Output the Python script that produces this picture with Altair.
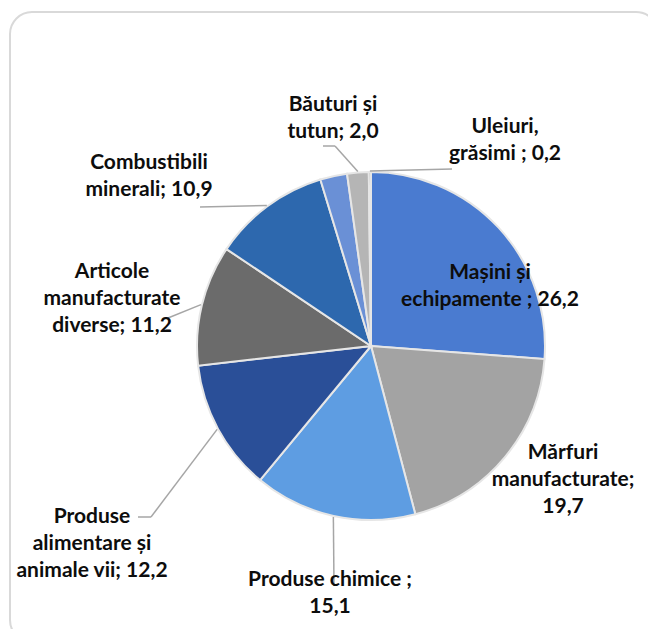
import math
import altair as alt
import pandas as pd

# ---- data ----
categories = [
    "Mașini și echipamente",
    "Mărfuri manufacturate",
    "Produse chimice",
    "Produse alimentare și animale vii",
    "Articole manufacturate diverse",
    "Combustibili minerali",
    "Materiale brute",
    "Băuturi și tutun",
    "Uleiuri, grăsimi",
]
values = [26.2, 19.7, 15.1, 12.2, 11.2, 10.9, 2.5, 2.0, 0.2]
label_texts = [
    "Mașini și\nechipamente ; 26,2",
    "Mărfuri\nmanufacturate;\n19,7",
    "Produse chimice ;\n15,1",
    "Produse\nalimentare și\nanimale vii; 12,2",
    "Articole\nmanufacturate\ndiverse; 11,2",
    "Combustibili\nminerali; 10,9",
    "",
    "Băuturi și\ntutun; 2,0",
    "Uleiuri,\ngrăsimi ; 0,2",
]

# ---- styling / layout ----
colors = ["#4a7bd0", "#a3a3a3", "#5e9de2", "#2a4f98", "#6b6b6b",
          "#2d68ae", "#6a90d6", "#b5b5b5", "#8a8a8a"]
W, H = 640, 621
OFF = 8  # page margin
CX, CY, R = 371 - OFF, 346 - OFF, 174
label_pos = {  # text block centre x / first line y (image px)
    0: (490, 273), 1: (563, 453), 2: (330, 580), 3: (92, 517),
    4: (112, 272), 5: (149, 163), 7: (333, 105), 8: (505, 127),
}
leader_pts = {  # label-side leader points (image px), last goes to slice edge
    2: [(334, 586)],
    3: [(138, 517), (151, 517)],
    4: [(168, 318)],
    5: [(200, 207)],
    7: [(323, 146), (335, 146)],
    8: [(452, 169)],
}

total = sum(values)
pie_df = pd.DataFrame({"cat": categories, "val": values, "ord": list(range(len(values)))})

lab_rows = []
for i, (x, y) in label_pos.items():
    lab_rows.append({"t": label_texts[i], "x": x - OFF, "y": y - OFF})
lab_df = pd.DataFrame(lab_rows)

seg_rows = []
cum = 0.0
mids = []
for v in values:
    mids.append((cum + v / 2) / total * 2 * math.pi)
    cum += v
for i, pts in leader_pts.items():
    a = mids[i]
    ax = CX + (R + 1) * math.sin(a)
    ay = CY - (R + 1) * math.cos(a)
    p = [(px - OFF, py - OFF) for px, py in pts] + [(ax, ay)]
    for (x1, y1), (x2, y2) in zip(p[:-1], p[1:]):
        seg_rows.append({"x": x1, "y": y1, "x2": x2, "y2": y2})
seg_df = pd.DataFrame(seg_rows)

frame = alt.Chart(pd.DataFrame({"a": [0]})).mark_rect(
    fill="white", stroke="#d9d9d9", strokeWidth=2, cornerRadius=22
).encode(x=alt.value(2), x2=alt.value(650), y=alt.value(4), y2=alt.value(634))

pie = alt.Chart(pie_df).mark_arc(
    radius=R, stroke="#e6e6e6", strokeWidth=2
).encode(
    theta=alt.Theta("val:Q", stack=True),
    order=alt.Order("ord:Q"),
    color=alt.Color("cat:N", scale=alt.Scale(domain=categories, range=colors), legend=None),
    x=alt.value(CX),
    y=alt.value(CY),
)

leaders = alt.Chart(seg_df).mark_rule(color="#a6a6a6", strokeWidth=1.5).encode(
    x=alt.X("x:Q", scale=None), y=alt.Y("y:Q", scale=None),
    x2="x2:Q", y2="y2:Q",
)

labels = alt.Chart(lab_df).mark_text(
    font="Lato", fontWeight="bold", fontSize=21, lineBreak="\n", lineHeight=27,
    align="center", baseline="middle", color="#0d0d0d",
).encode(
    x=alt.X("x:Q", scale=None), y=alt.Y("y:Q", scale=None), text="t:N",
)

chart = alt.layer(frame, pie, leaders, labels).properties(
    width=W, height=H, padding=0, autosize=alt.AutoSizeParams(type="none")
).configure_view(stroke=None)

chart.save("out.html", embed_options={"renderer": "svg", "actions": False})
